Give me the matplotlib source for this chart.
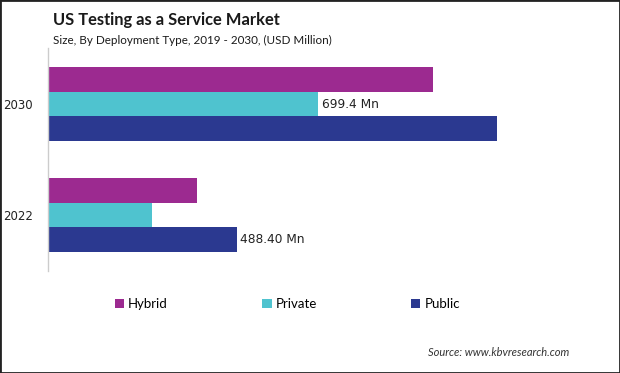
import numpy as np
import matplotlib.pyplot as plt
from matplotlib.patches import Rectangle

years = ['2022', '2030']
series = ['Hybrid', 'Private', 'Public']
hybrid = [386.0, 997.0]
private = [269.0, 699.4]
public = [488.40, 1163.0]
labels = {('Public', 0): '488.40 Mn', ('Private', 1): '699.4 Mn'}
colors = ['#9c2a90', '#4fc3cf', '#2b3990']

plt.rcParams['font.family'] = ['Lato', 'DejaVu Sans']

fig = plt.figure(figsize=(6.2, 3.73), dpi=100)
ax = fig.add_axes([48/620, 102/373, 512/620, 223/373])

y = np.arange(len(years))
h = 0.22
offsets = [h, 0, -h]
for vals, off, col, name in zip([hybrid, private, public], offsets, colors, series):
    ax.barh(y + off, vals, height=h, color=col, label=name)
    for i, v in enumerate(vals):
        if (name, i) in labels:
            ax.text(v + 9, y[i] + off, labels[(name, i)], va='center', ha='left',
                    fontsize=8.7, color='#222222', family=['DejaVu Sans'])

ax.set_xlim(0, 1326)
ax.set_ylim(-0.505, 1.505)
ax.set_yticks(y)
ax.set_yticklabels(years, fontsize=8.5, family=['DejaVu Sans'], color='#222222')
ax.tick_params(axis='y', length=0, pad=11)
ax.set_xticks([])
for s in ['top', 'right', 'bottom']:
    ax.spines[s].set_visible(False)
ax.spines['left'].set_color('#cccccc')
ax.spines['left'].set_linewidth(1)

fig.text(53/620, 1 - 20/373, 'US Testing as a Service Market', fontsize=11.9,
         fontweight='bold', va='center', ha='left', color='#1a1a1a')
fig.text(53/620, 1 - 40/373, 'Size, By Deployment Type, 2019 - 2030, (USD Million)',
         fontsize=8.4, va='center', ha='left', color='#1a1a1a')

leg = fig.legend(loc='center left', bbox_to_anchor=(115/620, 1 - 304/373), ncol=3,
                 frameon=False, fontsize=9.5, handlelength=0.7, handleheight=0.7,
                 handletextpad=0.3, columnspacing=7.15, borderpad=0, borderaxespad=0)

fig.text(569/620, 1 - 352/373, 'Source: www.kbvresearch.com', fontsize=8,
         style='italic', ha='right', va='center', color='#333333')

fig.patches.append(Rectangle((0, 0), 1, 1, transform=fig.transFigure, fill=False,
                             edgecolor='#222222', linewidth=2, zorder=10))

fig.savefig('out.png', dpi=100)
